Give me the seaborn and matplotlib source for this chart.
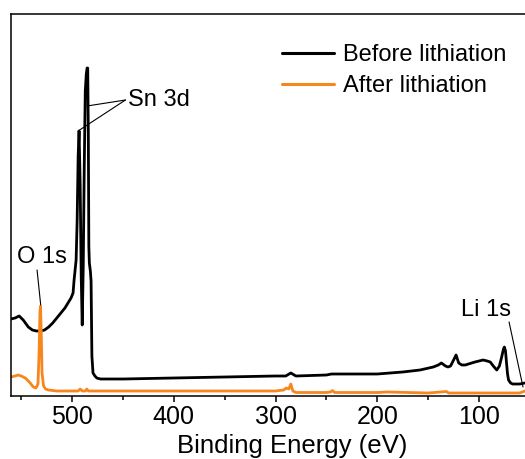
import numpy as np
import pandas as pd
import matplotlib
matplotlib.use("Agg")
import matplotlib.pyplot as plt
import seaborn as sns

# ---- data (binding energy in eV, intensity in a.u.) ----
before_ev = [560, 556, 552, 550, 548, 543, 539, 535, 531, 527, 523, 519, 515, 511,
             507, 504, 501, 499, 498, 496, 495, 494, 493.1, 492, 491, 490, 489, 488,
             487, 486, 485.2, 484.6, 484, 483.5, 483, 482, 481.3, 480.5, 479.4, 477.5, 475.7,
             472, 450, 400, 350, 300, 290, 285, 280, 250, 245, 200, 175, 158, 145,
             140, 137, 133, 130.5, 128, 125, 122.6, 120, 117, 113.6, 104, 96, 92, 89,
             86, 82.6, 80, 78, 76, 75.1, 74, 73, 72, 71, 69, 67, 60, 55]
before_int = [77, 78, 80, 78, 76, 69, 66, 65, 65, 66, 69, 73, 78, 83,
              88, 93, 98, 103, 116, 136, 175, 240, 265, 210, 120, 71, 130, 230,
              305, 322, 328, 328, 260, 150, 133, 125, 115, 40, 23, 20, 18,
              17, 17, 18, 19, 20, 20, 23, 20, 21, 22, 22, 24, 26, 29,
              31, 33, 30, 29, 30, 36, 41, 33, 31, 31, 34, 36, 35, 34,
              30, 26, 30, 38, 47, 49, 45, 33, 22, 16, 13, 12, 12, 13]

after_ev = [560, 556, 553, 550, 546, 542, 538, 535.5, 533.5, 532.5, 531.5, 531,
            530.2, 529.5, 528, 526, 523, 515, 500, 494, 492, 490, 487, 485.5, 484,
            450, 400, 350, 300, 292, 289.5, 287, 285, 283, 280, 250, 246, 244, 242,
            200, 190, 150, 132, 130, 100, 60, 55]
after_int = [19, 20, 21, 20, 18, 14, 9, 8, 12, 40, 85, 90,
             60, 23, 10, 7, 6, 5, 5, 5, 7, 5, 5, 7, 5,
             5, 5, 5, 5, 6, 8, 7, 12, 5, 3.5, 3.5, 4, 5.5, 3.5,
             3.5, 4, 3, 4.5, 3, 3, 3, 5]

series_names = ["Before lithiation", "After lithiation"]
series_colors = ["#000000", "#f7861c"]

df = pd.concat([
    pd.DataFrame({"ev": before_ev, "intensity": before_int, "sample": series_names[0]}),
    pd.DataFrame({"ev": after_ev, "intensity": after_int, "sample": series_names[1]}),
], ignore_index=True)

sns.set_style("ticks")
plt.rcParams["font.family"] = ["Liberation Sans", "DejaVu Sans"]
plt.rcParams["text.color"] = "black"
plt.rcParams["axes.labelcolor"] = "black"
plt.rcParams["xtick.color"] = "black"
plt.rcParams["ytick.color"] = "black"

W, H = 525, 459
fig = plt.figure(figsize=(W / 100, H / 100), dpi=100)
ax = fig.add_axes([11 / W, 63 / H, 516 / W, 382 / H])

sns.lineplot(data=df, x="ev", y="intensity", hue="sample", hue_order=series_names,
             palette=series_colors, estimator=None, sort=False, linewidth=2.0, ax=ax)

ax.set_xlim(560, 560 - 516 / 1.0175)
ax.set_ylim(0, 382)
ax.set_yticks([])
ax.set_ylabel("")
ax.set_xticks([500, 400, 300, 200, 100])
ax.set_xticks([550, 450, 350, 250, 150], minor=True)
ax.tick_params(axis="x", which="major", direction="out", length=4.5, width=1.1,
               labelsize=18, pad=2, color="black", labelcolor="black")
ax.tick_params(axis="x", which="minor", direction="out", length=3, width=1.1)
for s in ax.spines.values():
    s.set_linewidth(1.1)
    s.set_color("black")
    s.set_visible(True)

ax.set_xlabel("Binding Energy (eV)", fontsize=18.5, color="black")
ax.xaxis.set_label_coords((292 - 11) / 516, -0.10)

leg = ax.legend(loc="upper left", bbox_to_anchor=(282 / W, (459 - 44) / H),
                bbox_transform=fig.transFigure, frameon=False, fontsize=17,
                handlelength=2.2, handletextpad=0.4, labelspacing=0.38,
                borderpad=0, borderaxespad=0)
for line in leg.get_lines():
    line.set_linewidth(2.2)
for t in leg.get_texts():
    t.set_color("black")

# annotations
lw_ann = 0.8
ax.text(445, 296, "Sn 3d", fontsize=17, ha="left", va="center", color="black")
ax.annotate("", xy=(485.3, 290), xytext=(447.5, 296),
            arrowprops=dict(arrowstyle="-", lw=lw_ann, color="black", shrinkA=0, shrinkB=0))
ax.annotate("", xy=(494.1, 265), xytext=(447.5, 296),
            arrowprops=dict(arrowstyle="-", lw=lw_ann, color="black", shrinkA=0, shrinkB=0))

ax.text(529.5, 139, "O 1s", fontsize=17, ha="center", va="center", color="black")
ax.annotate("", xy=(530.8, 91), xytext=(534.4, 126),
            arrowprops=dict(arrowstyle="-", lw=lw_ann, color="black", shrinkA=0, shrinkB=0))

ax.text(93.1, 86, "Li 1s", fontsize=17, ha="center", va="center", color="black")
ax.annotate("", xy=(56.8, 9), xytext=(70.5, 74),
            arrowprops=dict(arrowstyle="-", lw=lw_ann, color="black", shrinkA=0, shrinkB=0))

fig.savefig("out.png", dpi=100)
